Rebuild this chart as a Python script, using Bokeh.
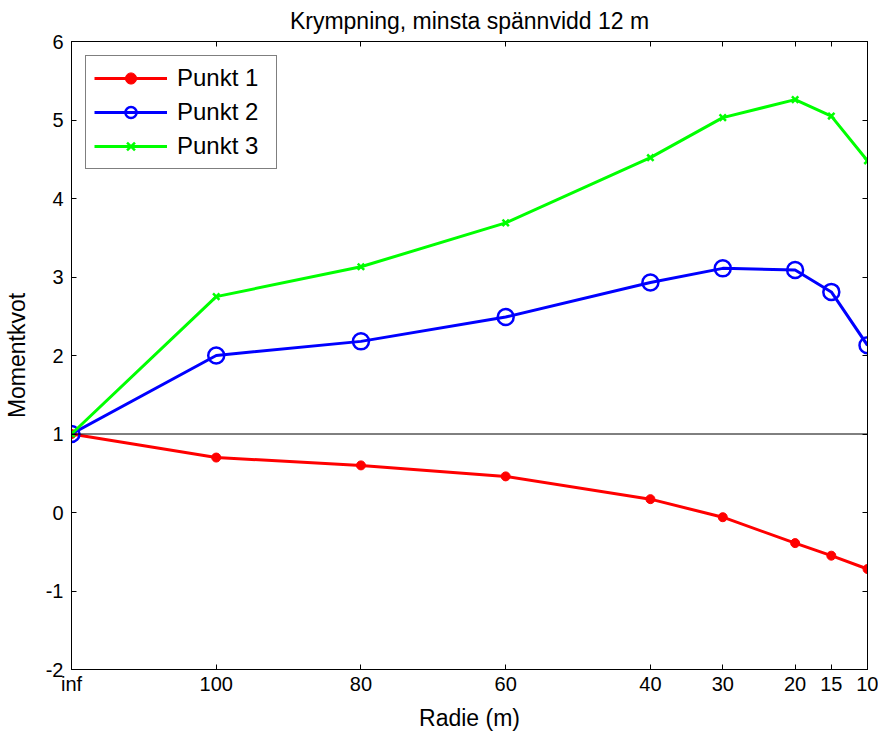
from bokeh.plotting import figure
from bokeh.models import LinearAxis, FixedTicker, Span, Range1d, Legend, CustomLabelingPolicy
from bokeh.embed import file_html
from bokeh.resources import INLINE

# Radius categories (tick labels) and their axis positions
radie_labels = ["inf", "100", "80", "60", "40", "30", "20", "15", "10"]
radie_pos = [0, 1, 2, 3, 4, 4.5, 5, 5.25, 5.5]

punkt1 = [1.0, 0.70, 0.60, 0.46, 0.17, -0.06, -0.39, -0.55, -0.72]
punkt2 = [1.0, 2.00, 2.18, 2.49, 2.93, 3.11, 3.09, 2.81, 2.13]
punkt3 = [1.0, 2.75, 3.13, 3.69, 4.52, 5.03, 5.26, 5.05, 4.48]

y_ticks = [-2, -1, 0, 1, 2, 3, 4, 5, 6]

FONT = "Liberation Sans"

p = figure(width=878, height=733, output_backend="svg", toolbar_location=None,
           x_range=Range1d(0, 5.5), y_range=Range1d(-2, 6),
           title="Krympning, minsta spännvidd 12 m",
           min_border_left=71, min_border_right=11, min_border_top=41, min_border_bottom=59)

p.title.align = "center"
p.title.text_font = FONT
p.title.text_font_size = "23px"
p.title.text_font_style = "normal"
p.title.text_color = "black"
p.title.text_line_height = 0.9
p.title.standoff = 8

p.xgrid.visible = False
p.ygrid.visible = False
p.outline_line_color = "black"
p.outline_line_width = 1
p.outline_line_alpha = 1

xt = FixedTicker(ticks=radie_pos)
yt = FixedTicker(ticks=y_ticks)

for ax in p.xaxis:
    ax.ticker = xt
    ax.major_label_overrides = {pos: lab for pos, lab in zip(radie_pos, radie_labels)}
    ax.axis_label = "Radie (m)"
    ax.major_label_standoff = 3
    ax.axis_label_standoff = 7
for ax in p.yaxis:
    ax.ticker = yt
    ax.major_label_overrides = {t: str(t) for t in y_ticks}
    ax.axis_label = "Momentkvot"
    ax.major_label_standoff = 8
    ax.axis_label_standoff = 13

for ax in list(p.xaxis) + list(p.yaxis):
    ax.major_tick_in = 5
    ax.major_tick_out = 0
    ax.minor_tick_in = 0
    ax.minor_tick_out = 0
    ax.axis_line_color = "black"
    ax.major_tick_line_color = "black"
    ax.major_label_text_font = FONT
    ax.major_label_text_font_size = "20px"
    ax.major_label_text_color = "black"
    ax.axis_label_text_font = FONT
    ax.axis_label_text_font_size = "23px"
    ax.axis_label_text_font_style = "normal"
    ax.axis_label_text_color = "black"

# mirrored ticks on top and right (no labels)
no_labels = CustomLabelingPolicy(code="""
for (const i of indices) indices.unset(i)
return indices
""")
top = LinearAxis(ticker=xt, major_tick_in=5, major_tick_out=0, minor_tick_in=0, minor_tick_out=0,
                 major_label_policy=no_labels, major_label_standoff=0, major_label_text_font_size="1px",
                 axis_line_color="black")
right = LinearAxis(ticker=yt, major_tick_in=5, major_tick_out=0, minor_tick_in=0, minor_tick_out=0,
                   major_label_policy=no_labels, major_label_standoff=0, major_label_text_font_size="1px",
                   axis_line_color="black")
p.add_layout(top, "above")
p.add_layout(right, "right")

p.add_layout(Span(location=1, dimension="width", line_color="black", line_width=1))

r1l = p.line(radie_pos, punkt1, line_color="#ff0000", line_width=3)
r1m = p.scatter(radie_pos, punkt1, marker="circle", size=9, fill_color="#ff0000", line_color="#ff0000")
r2l = p.line(radie_pos, punkt2, line_color="#0000ff", line_width=3)
r2m = p.scatter(radie_pos, punkt2, marker="circle", size=16, fill_color=None, line_color="#0000ff", line_width=2.5)
r3l = p.line(radie_pos, punkt3, line_color="#00ff00", line_width=3)
r3m = p.scatter(radie_pos, punkt3, marker="x", size=9, line_color="#00ff00", line_width=2.5)

legend = Legend(items=[("Punkt 1", [r1l, r1m]), ("Punkt 2", [r2l, r2m]), ("Punkt 3", [r3l, r3m])],
                location="top_left", margin=14, padding=8, spacing=6,
                glyph_width=73, glyph_height=28, label_height=28, label_width=91, label_standoff=10,
                label_text_font=FONT, label_text_font_size="24px", label_text_color="black",
                border_line_color="black", border_line_width=1, background_fill_alpha=1)
p.add_layout(legend)

open("out.html", "w").write(file_html(p, INLINE))
